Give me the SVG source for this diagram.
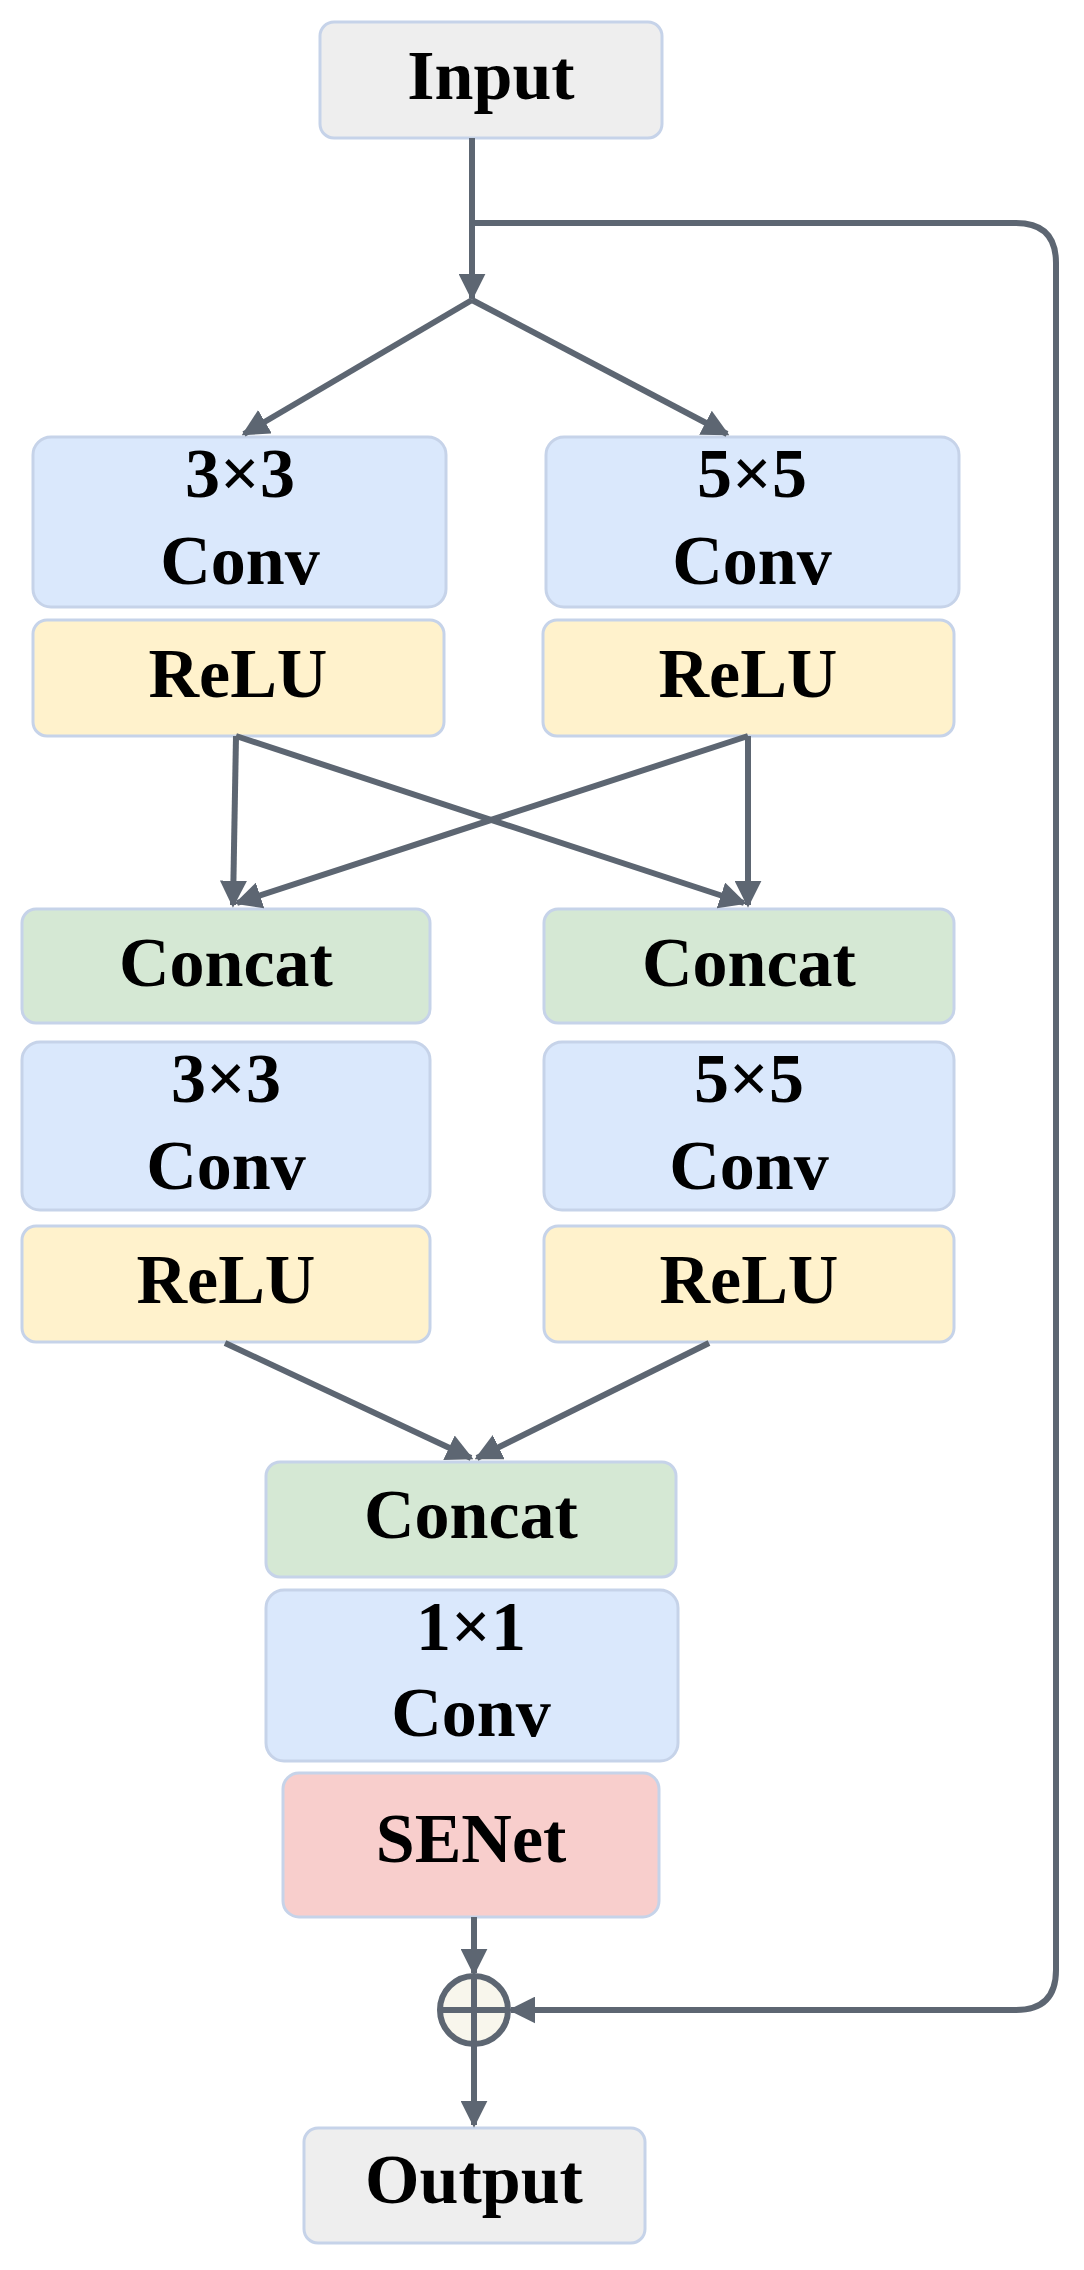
<svg xmlns="http://www.w3.org/2000/svg" width="1084" height="2270" viewBox="0 0 1084 2270">
<style>
.b{stroke:#c6d3e9;stroke-width:3}
.g{fill:#eeeeee}.bl{fill:#dae8fc}.y{fill:#fff2cc}.gr{fill:#d5e8d4}.r{fill:#f8cecc}
text{font-family:"Liberation Serif","Times New Roman",serif;font-weight:bold;font-size:70px;text-anchor:middle;fill:#000}
.c{stroke:#5d6672;stroke-width:6;fill:none}
</style>
<defs>
<marker id="a" viewBox="0 0 10 10" refX="9" refY="5" markerWidth="4.5" markerHeight="4.5" orient="auto" markerUnits="strokeWidth">
<path d="M0,0 L10,5 L0,10 z" fill="#5d6672"/>
</marker>
</defs>
<g id="input"><rect class="b g" x="320" y="22" width="342" height="116" rx="14"/><text x="491" y="99">Input</text></g>
<g id="conv3a"><rect class="b bl" x="33" y="437" width="413" height="170" rx="18"/><text x="240" y="497">3×3</text><text x="240" y="584">Conv</text></g>
<g id="conv5a"><rect class="b bl" x="546" y="437" width="413" height="170" rx="18"/><text x="752" y="497">5×5</text><text x="752" y="584">Conv</text></g>
<g id="relu1a"><rect class="b y" x="33" y="620" width="411" height="116" rx="14"/><text x="238" y="697">ReLU</text></g>
<g id="relu1b"><rect class="b y" x="543" y="620" width="411" height="116" rx="14"/><text x="748" y="697">ReLU</text></g>
<g id="concat1a"><rect class="b gr" x="22" y="909" width="408" height="114" rx="14"/><text x="226" y="986">Concat</text></g>
<g id="concat1b"><rect class="b gr" x="544" y="909" width="410" height="114" rx="14"/><text x="749" y="986">Concat</text></g>
<g id="conv3b"><rect class="b bl" x="22" y="1042" width="408" height="168" rx="18"/><text x="226" y="1102">3×3</text><text x="226" y="1189">Conv</text></g>
<g id="conv5b"><rect class="b bl" x="544" y="1042" width="410" height="168" rx="18"/><text x="749" y="1102">5×5</text><text x="749" y="1189">Conv</text></g>
<g id="relu2a"><rect class="b y" x="22" y="1226" width="408" height="116" rx="14"/><text x="226" y="1303">ReLU</text></g>
<g id="relu2b"><rect class="b y" x="544" y="1226" width="410" height="116" rx="14"/><text x="749" y="1303">ReLU</text></g>
<g id="concat2"><rect class="b gr" x="266" y="1462" width="410" height="115" rx="14"/><text x="471" y="1538">Concat</text></g>
<g id="conv1"><rect class="b bl" x="266" y="1590" width="412" height="171" rx="18"/><text x="471" y="1650">1×1</text><text x="471" y="1736">Conv</text></g>
<g id="senet"><rect class="b r" x="283" y="1773" width="376" height="144" rx="16"/><text x="471" y="1862">SENet</text></g>
<g id="add"><circle cx="474" cy="2010" r="34" fill="#f8f6ec" stroke="#5d6672" stroke-width="6"/><path class="c" d="M474,1976 V2044 M440,2010 H508"/></g>
<g id="output"><rect class="b g" x="304" y="2128" width="341" height="115" rx="14"/><text x="474" y="2203">Output</text></g>
<g id="connectors">
<path class="c" d="M472,138 V298" marker-end="url(#a)"/>
<path class="c" d="M472,300 L244,434" marker-end="url(#a)"/>
<path class="c" d="M472,300 L727,434" marker-end="url(#a)"/>
<path class="c" d="M472,223 H1016 Q1056,223 1056,263 V1970 Q1056,2010 1016,2010 H511" marker-end="url(#a)"/>
<path class="c" d="M236,736 L233,905" marker-end="url(#a)"/>
<path class="c" d="M748,736 L748,905" marker-end="url(#a)"/>
<path class="c" d="M236,736 L744,903" marker-end="url(#a)"/>
<path class="c" d="M748,736 L237,903" marker-end="url(#a)"/>
<path class="c" d="M225,1343 L471,1458" marker-end="url(#a)"/>
<path class="c" d="M709,1343 L477,1458" marker-end="url(#a)"/>
<path class="c" d="M474,1917 V1973" marker-end="url(#a)"/>
<path class="c" d="M474,2044 V2125" marker-end="url(#a)"/>
</g>
</svg>
